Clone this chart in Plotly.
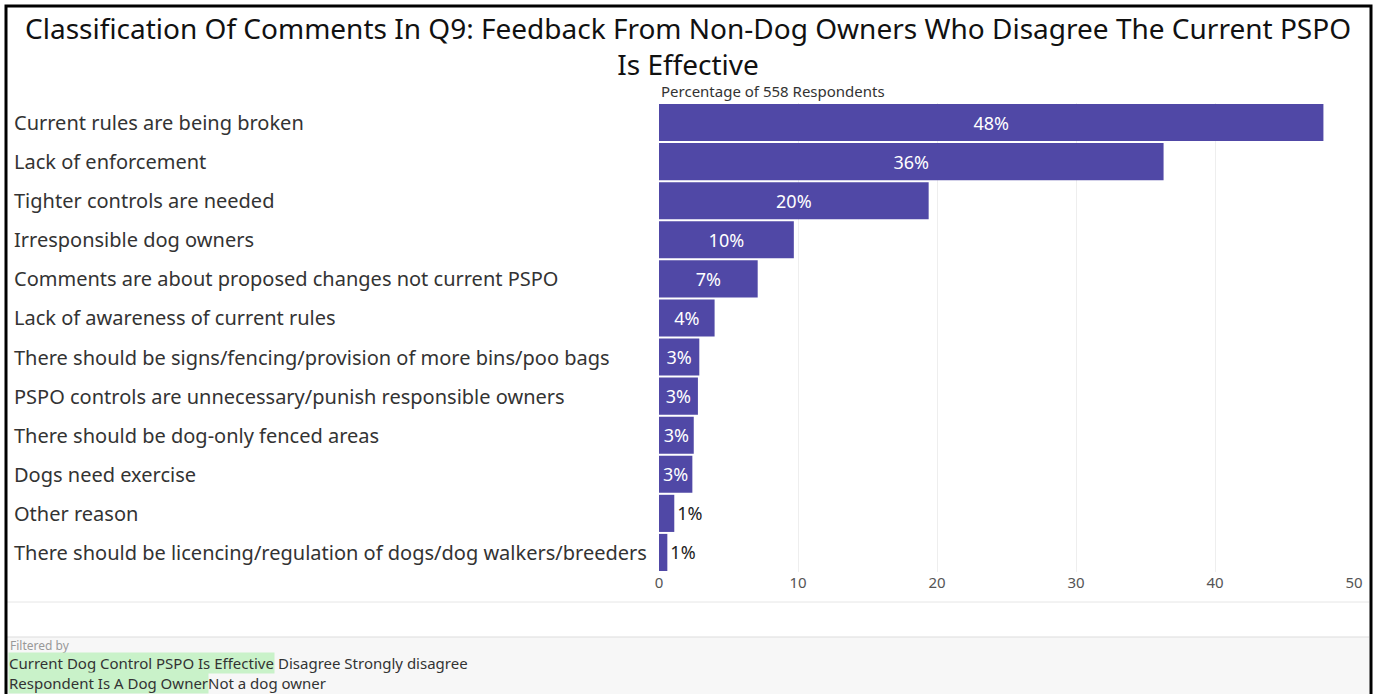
import plotly.graph_objects as go

categories = [
    "Current rules are being broken",
    "Lack of enforcement",
    "Tighter controls are needed",
    "Irresponsible dog owners",
    "Comments are about proposed changes not current PSPO",
    "Lack of awareness of current rules",
    "There should be signs/fencing/provision of more bins/poo bags",
    "PSPO controls are unnecessary/punish responsible owners",
    "There should be dog-only fenced areas",
    "Dogs need exercise",
    "Other reason",
    "There should be licencing/regulation of dogs/dog walkers/breeders",
]
values = [47.8, 36.3, 19.4, 9.7, 7.1, 4.0, 2.9, 2.8, 2.5, 2.4, 1.1, 0.6]
value_labels = ["48%", "36%", "20%", "10%", "7%", "4%", "3%", "3%", "3%", "3%", "1%", "1%"]
text_positions = ["inside"] * 10 + ["outside"] * 2
x_ticks = [0, 10, 20, 30, 40, 50]
title_text = ("Classification Of Comments In Q9: Feedback From Non-Dog Owners Who Disagree The Current PSPO"
              "<br>Is Effective")

W, H = 1376, 694
L, R, T, B = 659, 1354, 103, 572  # plot area pixels

def px(x):
    return (x - L) / (R - L)

def py(y):
    return (B - y) / (B - T)

FONT = "Noto Sans"
BAR = "#5048a6"

fig = go.Figure(go.Bar(
    x=values, y=categories, orientation="h",
    marker=dict(color=BAR, line=dict(width=0)),
    text=value_labels, textposition=text_positions,
    insidetextanchor="middle", constraintext="none", cliponaxis=False,
    insidetextfont=dict(color="white", size=18, family=FONT),
    outsidetextfont=dict(color="#222222", size=18, family=FONT),
    hoverinfo="skip",
))

annotations = []
for c in categories:
    annotations.append(dict(
        x=px(12), xref="paper", y=c, yref="y", text=c, showarrow=False,
        xanchor="left", yanchor="middle",
        font=dict(size=20, color="#333333", family=FONT),
    ))

annotations.append(dict(
    x=px(688), xref="paper", y=py(46), yref="paper", text=title_text,
    showarrow=False, xanchor="center", yanchor="middle", align="center",
    font=dict(size=28, color="#111111", family=FONT),
))

annotations.append(dict(
    x=0, xref="paper", y=1, yref="paper", text="Percentage of 558 Respondents",
    showarrow=False, xanchor="left", yanchor="bottom", yshift=0,
    font=dict(size=15, color="#333333", family=FONT),
))

# filter footer
annotations += [
    dict(x=px(8), xref="paper", y=py(645), yref="paper", text="Filtered by",
         showarrow=False, xanchor="left", yanchor="middle",
         font=dict(size=12, color="#999999", family=FONT)),
    dict(x=px(8), xref="paper", y=py(663), yref="paper",
         text="Current Dog Control PSPO Is Effective", bgcolor="#c9f2c9",
         borderpad=0, showarrow=False, xanchor="left", yanchor="middle",
         font=dict(size=15, color="#333333", family=FONT)),
    dict(x=px(276), xref="paper", y=py(663), yref="paper",
         text="Disagree Strongly disagree",
         showarrow=False, xanchor="left", yanchor="middle",
         font=dict(size=15, color="#333333", family=FONT)),
    dict(x=px(8), xref="paper", y=py(683), yref="paper",
         text="Respondent Is A Dog Owner", bgcolor="#c9f2c9",
         borderpad=0, showarrow=False, xanchor="left", yanchor="middle",
         font=dict(size=15, color="#333333", family=FONT)),
    dict(x=px(206), xref="paper", y=py(683), yref="paper",
         text="Not a dog owner",
         showarrow=False, xanchor="left", yanchor="middle",
         font=dict(size=15, color="#333333", family=FONT)),
]

shapes = [
    dict(type="rect", xref="paper", yref="paper", x0=px(7), x1=px(1369),
         y0=py(700), y1=py(637), fillcolor="#f7f7f7", line=dict(width=0),
         layer="below"),
    dict(type="line", xref="paper", yref="paper", x0=px(7), x1=px(1369),
         y0=py(637), y1=py(637), line=dict(color="#dddddd", width=1)),
    dict(type="line", xref="paper", yref="paper", x0=px(7), x1=px(1369),
         y0=py(602), y1=py(602), line=dict(color="#e6e6e6", width=1)),
    dict(type="rect", xref="paper", yref="paper", x0=px(6), x1=px(1371),
         y0=py(710), y1=py(6), fillcolor="rgba(0,0,0,0)",
         line=dict(color="black", width=3)),
]

fig.update_layout(
    width=W, height=H,
    margin=dict(l=L, r=W - R, t=T, b=H - B, pad=0),
    paper_bgcolor="white", plot_bgcolor="white",
    bargap=0.05,
    showlegend=False,
    xaxis=dict(
        range=[0, 50], tickvals=x_ticks, showgrid=True, gridcolor="#eeeeee",
        zeroline=False, showline=False, ticks="",
        tickfont=dict(size=15, color="#555555", family=FONT),
        fixedrange=True,
    ),
    yaxis=dict(
        categoryorder="array", categoryarray=categories, autorange="reversed",
        showticklabels=False, showgrid=False, zeroline=False, ticks="",
        fixedrange=True,
    ),
    annotations=annotations,
    shapes=shapes,
)

fig.write_html(
    "out.html",
    config={"displayModeBar": False},
    post_script="document.body.style.margin='0';document.body.style.overflow='hidden';",
)
